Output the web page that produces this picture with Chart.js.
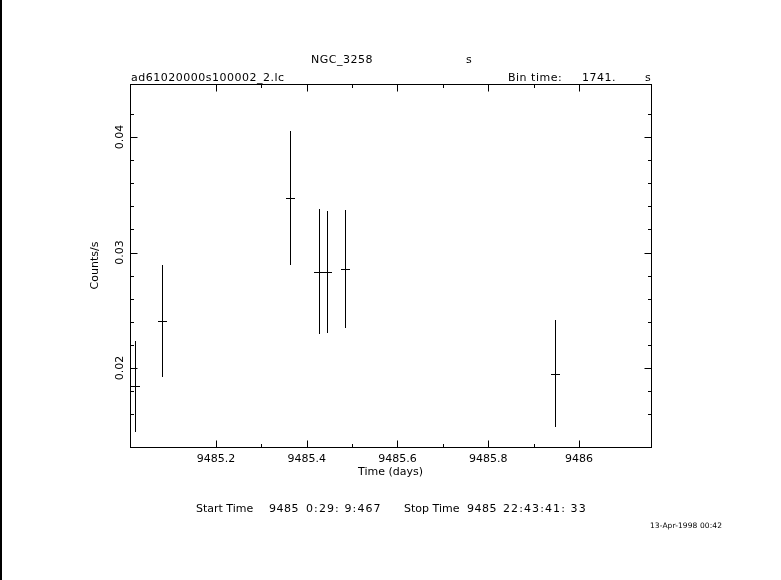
<!DOCTYPE html>
<html>
<head>
<meta charset="utf-8">
<script src="https://cdn.jsdelivr.net/npm/chart.js@4.4.1/dist/chart.umd.min.js"></script>
<style>
    body { margin: 0; background: #fff; width: 781px; height: 580px; overflow: hidden; position: relative; }
    #lc { position: absolute; left: 0; top: 0; }
    .txt { position: absolute; font-family: 'DejaVu Sans', sans-serif; font-size: 11px; line-height: 13px; color: #000; white-space: pre; letter-spacing: 0.5px; }
    .wide { letter-spacing: 1.1px; }
    .tight { letter-spacing: 0; }
    .small { font-size: 7.5px; line-height: 9px; letter-spacing: 0.1px; }
    .edge { position: absolute; left: 0; top: 0; width: 2px; height: 580px; background: #000; }
</style>
</head>
<body>
<div class="edge"></div>
<canvas id="lc" width="781" height="580"></canvas>

<div class="txt" style="left:311px; top:53px">NGC_3258</div>
<div class="txt" style="left:466px; top:53px">s</div>
<div class="txt" style="left:131px; top:71px">ad61020000s100002_2.lc</div>
<div class="txt" style="left:508px; top:71px">Bin time:</div>
<div class="txt" style="left:582px; top:71px">1741.</div>
<div class="txt" style="left:645px; top:71px">s</div>

<div class="txt tight" style="left:196px; top:502px">Start Time</div>
<div class="txt" style="left:269px; top:502px">9485</div>
<div class="txt wide" style="left:306px; top:502px">0:29: 9:467</div>
<div class="txt tight" style="left:404px; top:502px">Stop Time</div>
<div class="txt" style="left:467px; top:502px">9485</div>
<div class="txt wide" style="left:503px; top:502px">22:43:41: 33</div>
<div class="txt small" style="left:650px; top:521px">13-Apr-1998 00:42</div>

<script>
// --- Light curve data ---
const times = [9485.022, 9485.082, 9485.364, 9485.426, 9485.445, 9485.485, 9485.948];   // days
const rates = [0.0184, 0.02407, 0.03472, 0.02835, 0.02831, 0.02857, 0.01952];            // counts/s
const rateErrors = [0.0039, 0.00485, 0.0058, 0.00541, 0.00528, 0.00511, 0.00463];
const binTime = 1741; // s

// --- Axis setup ---
const xMin = 9485.0105, xMax = 9486.1587;
const yMin = 0.01316, yMax = 0.044589;
const xMajorTicks = [9485.2, 9485.4, 9485.6, 9485.8, 9486];
const xTickLabels = ['9485.2', '9485.4', '9485.6', '9485.8', '9486'];
const yMajorTicks = [0.02, 0.03, 0.04];
const yTickLabels = ['0.02', '0.03', '0.04'];

const halfBinDays = binTime / 2 / 86400;
const FONT = { family: 'DejaVu Sans', size: 11 };

function majorIndex(list, v) {
    return list.findIndex(m => Math.abs(m - v) < 1e-7);
}

function line(ctx, x1, y1, x2, y2) {
    ctx.beginPath();
    ctx.moveTo(x1, y1);
    ctx.lineTo(x2, y2);
    ctx.stroke();
}

// frame, inward ticks on all four sides, and the error bars
const framePlugin = {
    id: 'framePlugin',
    beforeInit(chart) {
        chart.ctx.letterSpacing = '0.5px';
    },
    afterDatasetsDraw(chart) {
        const { ctx, chartArea: a, scales: { x, y } } = chart;
        const L = Math.floor(a.left) + 0.5, R = Math.floor(a.right) + 0.5;
        const T = Math.floor(a.top) + 0.5, B = Math.floor(a.bottom) + 0.5;
        ctx.save();
        ctx.strokeStyle = '#000';
        ctx.lineWidth = 1;
        ctx.strokeRect(L, T, R - L, B - T);

        x.ticks.forEach(t => {
            const px = Math.round(x.getPixelForValue(t.value)) + 0.5;
            if (px <= L + 1 || px >= R - 1) return;
            const len = majorIndex(xMajorTicks, t.value) >= 0 ? 7 : 3.5;
            line(ctx, px, B, px, B - len);
            line(ctx, px, T, px, T + len);
        });
        y.ticks.forEach(t => {
            const py = Math.round(y.getPixelForValue(t.value)) + 0.5;
            if (py <= T + 1 || py >= B - 1) return;
            const len = majorIndex(yMajorTicks, t.value) >= 0 ? 7 : 3.5;
            line(ctx, L, py, L + len, py);
            line(ctx, R, py, R - len, py);
        });

        times.forEach((t, i) => {
            const cx = Math.round(x.getPixelForValue(t)) + 0.5;
            const cy = Math.round(y.getPixelForValue(rates[i])) + 0.5;
            line(ctx, cx, Math.round(y.getPixelForValue(rates[i] + rateErrors[i])),
                      cx, Math.round(y.getPixelForValue(rates[i] - rateErrors[i])));
            line(ctx, Math.round(x.getPixelForValue(t - halfBinDays)), cy,
                      Math.round(x.getPixelForValue(t + halfBinDays)), cy);
        });
        ctx.restore();
    }
};

new Chart(document.getElementById('lc'), {
    type: 'scatter',
    data: {
        datasets: [{
            data: times.map((t, i) => ({ x: t, y: rates[i] })),
            pointRadius: 0,
            showLine: false
        }]
    },
    options: {
        responsive: false,
        animation: false,
        events: [],
        layout: { padding: { left: 0, top: 84, right: 130, bottom: 0 } },
        plugins: { legend: { display: false }, tooltip: { enabled: false } },
        scales: {
            x: {
                type: 'linear',
                min: xMin,
                max: xMax,
                afterFit(scale) { scale.height = 580 - 447; },
                grid: { display: false, drawTicks: false },
                border: { display: false },
                ticks: {
                    stepSize: 0.1,
                    autoSkip: false,
                    maxRotation: 0,
                    padding: 6,
                    color: '#000',
                    font: FONT,
                    callback: v => {
                        const k = majorIndex(xMajorTicks, v);
                        return k >= 0 ? xTickLabels[k] : '';
                    }
                },
                title: {
                    display: true,
                    text: 'Time (days)',
                    color: '#000',
                    font: FONT,
                    padding: { top: 0, bottom: 101 }
                }
            },
            y: {
                type: 'linear',
                min: yMin,
                max: yMax,
                afterFit(scale) { scale.width = 130; },
                grid: { display: false, drawTicks: false },
                border: { display: false },
                ticks: {
                    stepSize: 0.002,
                    autoSkip: false,
                    minRotation: 90,
                    maxRotation: 90,
                    crossAlign: 'center',
                    padding: -2,
                    color: '#000',
                    font: FONT,
                    callback: v => {
                        const k = majorIndex(yMajorTicks, v);
                        return k >= 0 ? yTickLabels[k] : '';
                    }
                },
                title: {
                    display: true,
                    text: 'Counts/s',
                    color: '#000',
                    font: FONT,
                    padding: { top: 89, bottom: 0 }
                }
            }
        }
    },
    plugins: [framePlugin]
});
</script>
</body>
</html>
